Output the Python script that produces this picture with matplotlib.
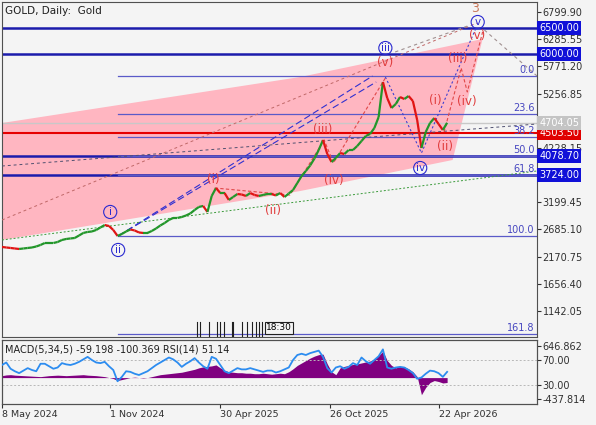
import matplotlib
matplotlib.use("Agg")
import matplotlib.pyplot as plt
import matplotlib.dates as mdates
from matplotlib.collections import LineCollection
import numpy as np
import pandas as pd

plt.rcParams["font.family"] = "DejaVu Sans"

# weekly closes, first week = 8 May 2024
start_date = "2024-05-08"
closes = [2354, 2344, 2335, 2325, 2316, 2325, 2335, 2344, 2363, 2392,
          2429, 2429, 2429, 2448, 2486, 2505, 2515, 2524, 2571, 2619,
          2638, 2647, 2675, 2723, 2770, 2751, 2675, 2562, 2600, 2647,
          2685, 2666, 2628, 2619, 2619, 2657, 2704, 2761, 2808, 2865,
          2903, 2903, 2921, 2950, 2988, 3054, 3111, 3130, 3016, 3319,
          3470, 3375, 3375, 3243, 3300, 3356, 3347, 3319, 3375, 3338,
          3319, 3338, 3356, 3356, 3328, 3375, 3300, 3366, 3432, 3565,
          3697, 3792, 3896, 4028, 4189, 4378, 4113, 3962, 4038, 4132,
          4113, 4189, 4189, 4265, 4359, 4454, 4492, 4605, 4813, 5476,
          5173, 4984, 5059, 5192, 5154, 5211, 5116, 4757, 4227, 4529,
          4700, 4794, 4681, 4567, 4704]

macd_hist = [40, 55, 60, 50, 45, 40, 35,
             30, 25, 20, 30, 40, 45, 50, 45, 40, 45, 50, 55, 60, 50, 45, 40,
             30, 20, 0, -20, -60, -40, -20, 0,
             10, 0, -10, 0, 20,
             40, 60, 70, 80, 90,
             100, 110, 130, 150, 170,
             200, 220, 230, 240, 260,
             200, 150, 120, 110, 100,
             100, 90, 90, 80, 80, 90, 80, 70, 80, 90, 80,
             120, 180, 250,
             300, 350, 400, 440, 470, 480,
             280, 120, 60,
             200, 230, 250, 270, 280, 300,
             320, 340, 380, 450, 540,
             350, 250, 200,
             230, 220, 180, 120, 20,
             -350,
             -200, -100, -60, -80, -110, -100]

rsi = [62, 66, 56, 52, 49, 53, 57, 54, 52, 64,
       64, 60, 56, 58, 65, 63, 62, 64, 67, 71,
       75, 70, 66, 65, 67, 60, 54, 36, 43, 52,
       51, 48, 46, 49, 52, 57, 62, 66, 70, 74,
       71, 66, 59, 64, 68, 73, 66, 60, 56, 75,
       72, 62, 52, 49, 53, 57, 55, 55, 57, 55,
       53, 51, 53, 53, 50, 52, 55, 58, 70, 78,
       80, 78, 81, 83, 85, 75, 57, 50, 58, 60,
       56, 59, 65, 62, 74, 68, 64, 70, 76, 87,
       58, 56, 58, 59, 58, 54, 49, 40, 42, 48,
       53, 52, 49, 43, 51]

blue_levels = [6500.00, 6000.00, 4078.70, 3724.00]
red_level = 4503.50
last_price = 4704.05

fib_labels = ["0.0", "23.6", "38.2", "50.0", "61.8", "100.0", "161.8"]
fib_prices = [5589, 4876, 4435, 4078.7, 3724, 2568, 701]
fib_start = "2024-11-14"

# 4742.50 and 3713.80 sit under the price tags, so they are not shown
price_ticks = [6799.90, 6285.55, 5771.20, 5256.85, 4228.15,
               3199.45, 2685.10, 2170.75, 1656.40, 1142.05]

date_ticks = ["2024-05-08", "2024-11-01", "2025-04-30", "2025-10-26", "2026-04-22"]
date_labels = ["8 May 2024", "1 Nov 2024", "30 Apr 2025", "26 Oct 2025", "22 Apr 2026"]

# pink channel
channel_dates = ["2024-05-08", "2025-09-08", "2026-07-03", "2026-05-15", "2025-09-08", "2024-05-08"]
channel_prices = [4700, 5571, 6290, 4000, 3413, 2486]

# wave labels
blue_waves = ["i", "ii", "iii", "iv", "v"]
blue_wave_dates = ["2024-11-01", "2024-11-14", "2026-01-25", "2026-03-23", "2026-06-25"]
blue_wave_prices = [3016, 2297, 6119, 3848, 6611]

red_waves = ["(i)", "(ii)", "(iii)", "(iv)", "(v)", "(i)", "(ii)", "(iii)", "(iv)", "(v)"]
red_wave_dates = ["2025-04-18", "2025-07-26", "2025-10-15", "2025-11-01", "2026-01-25",
                  "2026-04-17", "2026-05-03", "2026-05-24", "2026-06-07", "2026-06-24"]
red_wave_prices = [3640, 3035, 4568, 3621, 5836, 5135, 4246, 5930, 5116, 6347]

# trend / wave lines
ii_line_a = (["2024-11-14", "2026-01-04"], [2562, 5590])
ii_line_b = (["2024-11-14", "2026-01-10"], [2562, 5476])
mid_line = (["2024-05-08", "2026-09-30"], [3886, 4681])
fan_line = (["2024-05-08", "2026-06-24"], [2864, 6593])
top_line = (["2026-02-10", "2026-06-13"], [6044, 6555])
exit_line = (["2026-07-06", "2026-09-30"], [6460, 5590])
green_line = (["2024-05-08", "2026-09-30"], [2486, 3792])
red_path = (["2025-04-21", "2025-08-22", "2025-10-17", "2025-11-01", "2026-01-25"],
            [3470, 3337, 4378, 3943, 5552])
blue_path = (["2026-01-25", "2026-03-25", "2026-06-23"], [5571, 4132, 6517])
red_sub_path = (["2026-05-01", "2026-05-29", "2026-06-08", "2026-07-03"], [4530, 5741, 5287, 6422])

event_dates = ["2025-03-23", "2025-03-28", "2025-04-12", "2025-04-25", "2025-04-30",
               "2025-05-06", "2025-05-19", "2025-05-21", "2025-06-05", "2025-06-13",
               "2025-06-21", "2025-06-28", "2025-07-03", "2025-07-08"]
timer_date = "2025-08-04"

BG = "#f4f4f4"
BLUE = "#1c1cac"
FIB = "#5a5ac8"


def dn(d):
    return mdates.date2num(pd.Timestamp(d))


def dl(ds):
    return [dn(d) for d in ds]


fig = plt.figure(figsize=(5.96, 4.25), dpi=100, facecolor=BG)
ax = fig.add_axes([2 / 596, 88 / 425, 535 / 596, 335 / 425], facecolor=BG)
axm = fig.add_axes([2 / 596, 21 / 425, 535 / 596, 64 / 425], facecolor=BG, sharex=ax)

dates = pd.date_range(start_date, periods=len(closes), freq="7D")
xd = mdates.date2num(dates)

# channel
ax.fill(dl(channel_dates), channel_prices, color="#ffb6c1", lw=0, zorder=1)

# horizontal levels
for lv in blue_levels:
    ax.axhline(lv, color=BLUE, lw=1.8, zorder=2)
ax.axhline(last_price, color="#c8c8c8", lw=1.0, zorder=2)
ax.axhline(red_level, color="#e60000", lw=1.5, zorder=2)
for lab, p in zip(fib_labels, fib_prices):
    ax.plot([dn(fib_start), dn("2026-09-30")], [p, p], color=FIB, lw=0.9, zorder=2)
    ax.text(0.996, p + 20, lab, transform=ax.get_yaxis_transform(), ha="right", va="bottom",
            fontsize=7, color="#4646c0", zorder=5)

# trend lines
for xs, ys in [ii_line_a, ii_line_b]:
    ax.plot(dl(xs), ys, color="#3030d0", lw=0.8, ls=(0, (6, 3)), zorder=3)
ax.plot(dl(mid_line[0]), mid_line[1], color="#505070", lw=0.7, ls=(0, (3, 3)), zorder=3)
ax.plot(dl(fan_line[0]), fan_line[1], color="#c06868", lw=0.7, ls=(0, (3, 3)), zorder=3)
for xs, ys in [top_line, exit_line]:
    ax.plot(dl(xs), ys, color="#a09090", lw=0.8, ls=(0, (3, 3)), zorder=3)
ax.plot(dl(green_line[0]), green_line[1], color="#3a9a3a", lw=0.7, ls=(0, (2, 2)), zorder=3)
for xs, ys in [red_path, red_sub_path]:
    ax.plot(dl(xs), ys, color="#e04848", lw=0.8, ls=(0, (3, 2)), zorder=3)
ax.plot(dl(blue_path[0]), blue_path[1], color="#4040d0", lw=0.8, ls=(0, (2, 2)), zorder=3)

# price
pts = np.column_stack([xd, closes])
segs = np.stack([pts[:-1], pts[1:]], axis=1)
cols = ["#22962a" if b >= a else "#e01414" for a, b in zip(closes[:-1], closes[1:])]
ax.add_collection(LineCollection(segs, colors=cols, linewidths=1.6, zorder=4))

# wave labels
for t, d, p in zip(blue_waves, blue_wave_dates, blue_wave_prices):
    ax.text(dn(d), p, t, color="#2a2ad0", fontsize=7.5, ha="center", va="center", zorder=6,
            bbox=dict(boxstyle="circle,pad=0.15", fc="none", ec="#2a2ad0", lw=0.8))
for t, d, p in zip(red_waves, red_wave_dates, red_wave_prices):
    ax.text(dn(d), p, t, color="#e03c3c", fontsize=8.5, ha="center", va="center", zorder=6)
ax.text(dn("2026-06-21"), 6876, "3", color="#c8785a", fontsize=9, ha="center", va="center", zorder=6)

# event markers at the bottom
for d in event_dates:
    ax.axvline(dn(d), ymin=0, ymax=0.045, color="#202020", lw=0.8, zorder=5)
ax.text(dn(timer_date), 0.027, "18:30", transform=ax.get_xaxis_transform(), fontsize=6.5,
        ha="center", va="center", zorder=6,
        bbox=dict(boxstyle="square,pad=0.15", fc=BG, ec="#202020", lw=0.8))

ax.text(0.006, 0.988, "GOLD, Daily:  Gold", transform=ax.transAxes, ha="left", va="top",
        fontsize=7.5, color="#202020")

ax.set_ylim(650, 6990)
ax.set_xlim(dn("2024-05-08"), dn("2026-09-30"))
ax.yaxis.tick_right()
ax.set_yticks(price_ticks)
ax.set_yticklabels([f"{v:.2f}" for v in price_ticks])
ax.tick_params(axis="y", direction="out", length=3, width=0.8, pad=1, labelsize=7,
               colors="#303030")
ax.tick_params(axis="x", bottom=False, labelbottom=False)


def tag(y, text, fc, tc="white"):
    ax.text(1.004, y, text, transform=ax.get_yaxis_transform(), ha="left", va="center",
            fontsize=7, color=tc, clip_on=False, zorder=8,
            bbox=dict(boxstyle="square,pad=0.2", fc=fc, ec="none"))


for lv in blue_levels:
    tag(lv, f"{lv:.2f}", "#1010d8")
tag(red_level, f"{red_level:.2f}", "#e00000")
tag(last_price, f"{last_price:.2f}", "#c4c4c4")

# MACD + RSI panel
axm.fill_between(xd, 0, macd_hist, color="#800080", lw=0, zorder=2)
axm.set_ylim(-540.2, 769.7)

axr = axm.twinx()
axr.axhline(70, color="#b8b8b8", lw=0.7, ls=(0, (2, 2)))
axr.axhline(30, color="#b8b8b8", lw=0.7, ls=(0, (2, 2)))
axr.plot(xd, rsi, color="#2c8cf0", lw=1.3, zorder=3)
axr.set_ylim(-0.4, 102)
axr.set_yticks([70, 30])
axr.set_yticklabels(["70.00", "30.00"])

axm.yaxis.tick_right()
axm.set_yticks([646.862, -437.814])
axm.set_yticklabels(["646.862", "-437.814"])

for a in (axm, axr):
    a.tick_params(axis="y", direction="out", length=3, width=0.8, pad=1, labelsize=7,
                  colors="#303030", left=False, labelleft=False, right=True, labelright=True)

axm.text(0.006, 0.93, "MACD(5,34,5) -59.198 -100.369 RSI(14) 51.14", transform=axm.transAxes,
         ha="left", va="top", fontsize=7, color="#202020", zorder=6)

axm.set_xticks(dl(date_ticks))
axm.set_xticklabels(date_labels, ha="left")
axm.tick_params(axis="x", direction="out", length=3, width=0.8, pad=1, labelsize=6.8,
                colors="#303030")
axm.set_xlim(dn("2024-05-08"), dn("2026-09-30"))

for a in (ax, axm, axr):
    for s in a.spines.values():
        s.set_color("#505050")
        s.set_linewidth(0.8)

fig.savefig("out.png", dpi=100, facecolor=BG)
